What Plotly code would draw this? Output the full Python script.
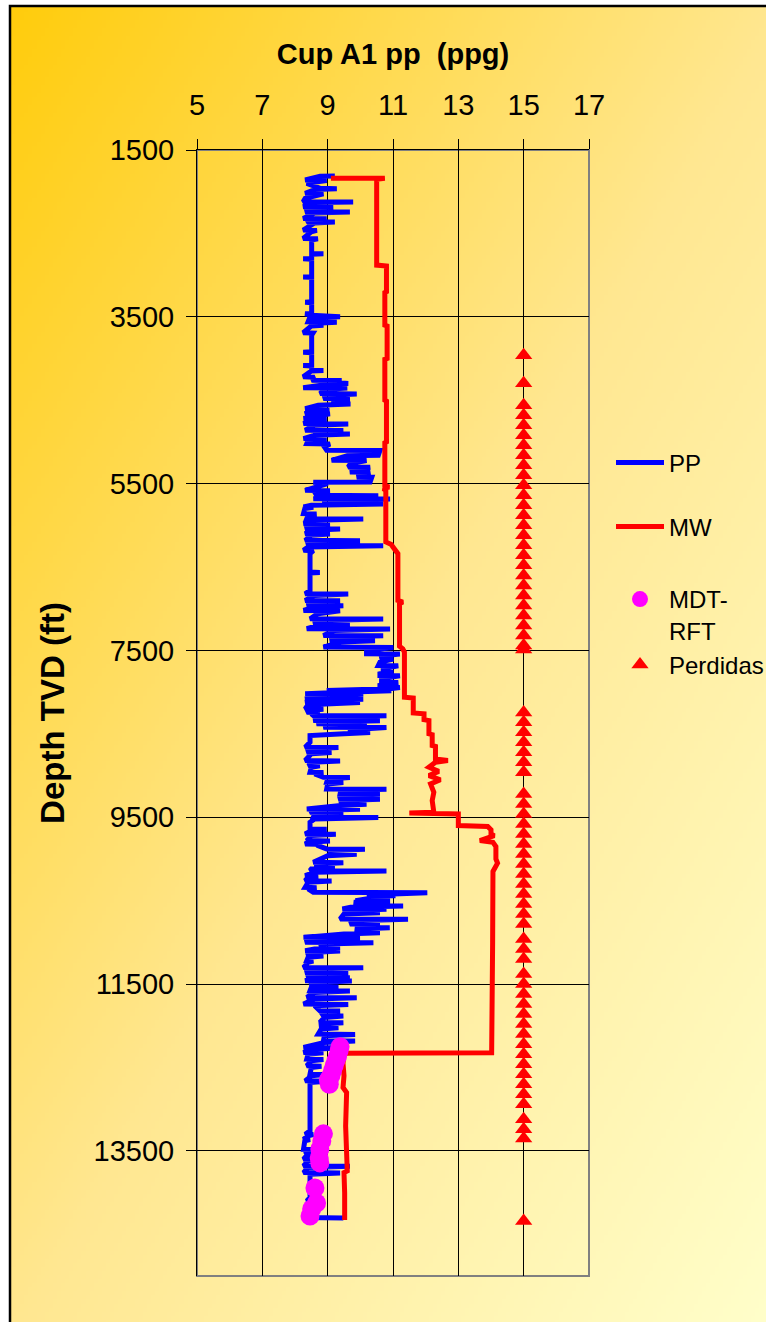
import zlib, struct, base64
import plotly.graph_objects as go

# ---------------- data ----------------
pp_depth = [1812,1816,1860,1866,1900,1960,1964,1975,2020,2024,2080,2120,2124,2130,2180,2184,2200,2240,2244,2255,
 2320,2324,2335,2360,2364,2375,2460,2464,2480,2560,2564,2580,2740,2744,2750,2800,2804,2810,3020,3024,3030,3320,3324,3330,
 3460,3464,3480,3500,3510,3560,3565,3580,3600,3610,3690,3695,3720,3920,3924,3930,4080,4084,4090,4140,4144,4150,4220,4224,
 4260,4264,4275,4300,4310,4350,4354,4370,4420,4424,4440,4480,4484,4500,4540,4544,4560,4600,4604,4640,4660,4664,4700,4720,
 4724,4740,4780,4784,4800,4860,4864,4880,4900,4904,4920,4960,4964,4980,5020,5024,5060,5100,5104,5160,5165,5220,5224,5260,
 5300,5304,5360,5364,5420,5424,5480,5484,5500,5580,5584,5600,5640,5644,5660,5680,5684,5700,5740,5744,5760,5780,5784,5800,
 5860,5864,5880,5920,5924,5940,5980,5984,6000,6040,6044,6060,6100,6104,6120,6180,6184,6200,6240,6244,6260,6300,6304,6340,
 6560,6564,6570,6780,6820,6824,6840,6900,6904,6920,6960,6964,6980,7020,7024,7060,7120,7124,7140,7180,7184,7200,7240,7244,
 7260,7320,7324,7340,7380,7384,7400,7460,7464,7500,7540,7544,7560,7600,7604,7640,7680,7684,7720,7740,7744,7780,7800,7804,
 7840,7880,7884,7920,7940,7944,7960,7980,7984,8000,8020,8024,8050,8080,8084,8100,8120,8124,8150,8200,8204,8220,8240,8244,
 8260,8280,8284,8300,8340,8344,8360,8380,8384,8400,8420,8424,8450,8480,8484,8500,8520,8600,8660,8664,8680,8720,8724,8740,
 8820,8824,8840,8880,8884,8900,8960,8964,8980,9020,9024,9040,9080,9084,9100,9160,9164,9180,9220,9224,9240,9280,9284,9300,
 9340,9344,9360,9400,9404,9420,9440,9444,9460,9500,9504,9520,9560,9640,9644,9660,9700,9704,9720,9780,9784,9800,9820,9824,
 9840,9880,9884,9900,9940,9944,9960,10040,10044,10060,10100,10104,10120,10140,10144,10160,10200,10204,10220,10260,10264,
 10280,10340,10344,10360,10400,10404,10420,10440,10444,10460,10500,10504,10520,10560,10564,10580,10600,10604,10620,10640,
 10644,10660,10720,10724,10740,10780,10784,10800,10820,10824,10840,10880,10884,10900,10940,10944,10960,11000,11004,11020,
 11060,11064,11080,11100,11104,11120,11160,11164,11180,11220,11224,11240,11300,11304,11320,11360,11364,11380,11420,11424,
 11440,11460,11464,11480,11520,11524,11540,11580,11584,11600,11660,11664,11680,11740,11744,11760,11820,11824,11840,11880,
 11884,11900,11960,11964,11980,12020,12024,12040,12100,12104,12120,12180,12184,12200,12260,12264,12280,12320,12324,12340,
 12400,12404,12420,12480,12484,12500,12580,12584,12600,12660,12664,12680,13260,13300,13304,13320,13360,13364,13380,13480,
 13484,13500,13540,13544,13560,13600,13604,13620,13680,13684,13700,13760,13764,13780,14060,14100,14104,14120,14200,14204,
 14220,14300,14304]
pp_value = [9.22,8.77,8.31,8.97,8.36,8.77,9.28,8.6,8.31,8.87,8.31,8.25,9.78,8.6,8.25,9.17,8.5,8.31,9.68,8.6,
 8.25,8.97,8.4,8.36,9.22,8.6,8.25,8.67,8.5,8.25,8.7,8.51,8.51,8.87,8.51,8.51,8.25,8.51,8.51,8.25,8.51,8.51,8.31,8.51,
 8.51,8.31,8.5,9.38,8.45,8.4,9.28,8.5,8.87,8.5,8.25,8.55,8.51,8.51,8.25,8.51,8.51,8.25,8.51,8.51,8.87,8.5,8.25,8.6,
 8.51,9.43,8.8,9.63,8.97,8.25,9.6,8.9,8.77,9.89,9.0,8.87,9.68,9.2,9.17,9.7,8.71,8.31,9.05,8.4,8.31,9.07,8.4,8.26,
 8.97,8.5,8.26,9.63,8.6,8.31,9.48,8.7,8.56,9.68,8.6,8.26,8.97,8.4,8.36,9.07,8.9,8.97,10.6,10.55,9.6,9.12,10.19,9.7,
 9.63,10.3,9.68,10.3,9.89,10.35,10.3,8.56,9.0,8.31,9.07,8.6,8.66,10.55,9.2,8.56,10.91,9.0,8.87,10.7,8.5,8.26,8.56,8.3,
 8.26,8.66,8.4,8.36,10.09,8.6,8.26,9.07,8.5,8.31,9.38,8.5,8.31,9.07,8.5,8.31,9.99,8.5,8.36,10.7,8.4,8.26,8.56,8.46,
 8.46,8.76,8.46,8.46,8.31,9.63,8.6,8.31,9.38,8.6,8.36,9.48,8.6,8.26,9.38,8.7,8.46,10.7,8.8,8.56,9.68,8.7,8.36,10.91,
 9.2,8.87,10.7,9.3,9.07,10.45,9.4,8.87,11.01,10.19,10.19,11.21,10.8,10.6,11.01,10.6,10.55,11.16,10.7,10.7,11.01,10.6,10.6,11.21,
 10.65,10.65,11.16,10.6,10.6,11.21,10.9,8.97,10.95,9.5,8.31,10.09,8.6,8.31,10.09,8.5,8.31,9.99,8.4,8.31,8.87,8.4,8.36,8.76,
 8.5,8.56,10.8,8.9,8.56,10.6,8.8,8.66,10.2,9.0,8.87,10.8,9.7,9.68,10.3,9.5,8.46,8.46,8.31,9.33,8.5,8.36,9.12,8.5,
 8.31,9.38,8.5,8.41,8.76,8.5,8.46,8.87,8.6,8.87,9.68,9.0,8.97,9.48,9.0,8.97,10.8,9.4,9.38,10.6,9.5,9.33,10.6,9.5,
 9.38,10.19,9.4,8.36,9.99,8.5,8.46,9.48,8.6,8.56,10.55,8.6,8.46,8.46,8.97,8.5,8.31,9.25,8.5,8.36,9.07,8.4,8.31,8.66,
 8.7,8.97,10.14,9.1,9.07,9.89,9.0,8.56,9.48,8.6,8.97,9.22,8.5,8.46,10.8,8.6,8.31,8.71,8.4,8.31,9.12,
 8.4,8.31,8.66,8.4,8.56,12.05,11.0,11.0,10.2,10.5,9.85,10.91,9.8,10.2,11.31,9.7,9.45,10.8,9.6,9.68,
 10.6,9.5,9.38,11.46,9.8,9.68,10.6,10.0,9.99,10.9,9.9,9.89,10.6,9.5,8.26,9.99,8.5,8.31,10.4,8.9,
 8.76,9.38,8.6,8.31,9.38,8.5,8.36,8.87,8.4,8.36,8.56,8.4,8.26,10.09,8.5,8.31,9.63,8.5,8.36,9.68,
 8.5,8.31,9.74,8.6,8.46,9.33,8.5,8.46,9.68,8.6,8.36,9.89,8.6,8.26,9.63,8.6,8.76,9.38,8.8,8.87,
 9.48,8.9,8.76,9.48,8.8,8.81,9.33,8.8,8.71,9.84,8.9,8.87,9.84,8.9,8.26,9.63,8.5,8.26,8.87,8.4,
 8.36,8.87,8.5,8.36,8.81,8.5,8.46,8.92,8.5,8.31,8.97,8.46,8.46,8.31,8.56,8.4,8.26,8.46,8.3,8.26,
 8.87,8.4,8.31,8.66,8.35,8.26,8.87,8.4,8.26,9.68,8.4,8.26,9.38,8.46,8.46,8.36,8.76,8.4,8.36,8.66,
 8.4,8.36,9.48]

mw_depth = [1840,1840,1850,2880,2890,3200,3210,3600,3610,4000,4010,4500,4510,5000,5010,5520,5540,5560,5580,6200,
 6230,6260,6330,6340,6900,6920,6940,7450,7480,7520,8060,8070,8250,8260,8330,8340,8500,8510,8640,8650,
 8800,8820,8840,8900,8950,9000,9050,9100,9200,9300,9440,9450,9460,9600,9610,9650,9700,9720,9780,9800,
 9850,10000,10050,10150,11000,12324,12330,12450,12600,12740,12800,13200,13740,13760,14000,14330]
mw_value = [9.1,10.75,10.5,10.5,10.8,10.8,10.75,10.75,10.82,10.82,10.75,10.75,10.8,10.8,10.75,10.75,10.88,10.7,10.78,10.78,
 10.95,11.0,11.1,11.15,11.15,11.3,11.2,11.2,11.3,11.35,11.35,11.62,11.62,11.95,11.95,12.1,12.1,12.2,12.2,12.3,
 12.3,12.68,12.3,12.1,12.4,12.1,12.45,12.15,12.25,12.2,12.25,11.5,13.0,13.0,13.9,14.0,14.0,14.1,13.66,14.06,
 14.15,14.15,14.2,14.06,14.05,14.02,9.5,9.47,9.5,9.47,9.58,9.55,9.6,9.5,9.52,9.52]

mdt_depth = [12250,12300,12370,12420,12480,12540,12600,12650,12700,13296,13380,13476,13584,13644,13944,14124,14196,14280]
mdt_value = [9.38,9.35,9.3,9.25,9.2,9.15,9.1,9.02,9.05,8.87,8.82,8.76,8.74,8.76,8.61,8.66,8.51,8.46]

perd_depth = [3960,4296,4560,4680,4800,4920,5040,5160,5280,5400,5520,5640,5760,5880,6000,6120,6240,6360,6480,6600,
 6720,6840,6960,7080,7200,7320,7440,7490,
 8244,8360,8480,8600,8720,8840,8960,9220,9340,9460,9580,9700,9820,9940,10060,10180,10300,10420,10540,10660,10780,
 10960,11080,11200,11380,11500,11620,11740,11860,11980,12100,12220,12340,12460,12580,12700,12820,12940,
 13120,13240,13350,14340]
perd_value = [15.0] * len(perd_depth)

x_ticks = [5, 7, 9, 11, 13, 15, 17]
y_ticks = [1500, 3500, 5500, 7500, 9500, 11500, 13500]

# ---------------- layout geometry ----------------
W, H = 766, 1322
L, R, T, B = 197, 589, 150, 1276
PW, PH = R - L, B - T

def px(x):
    return (x - L) / PW

def py(y):
    return (B - y) / PH

# diagonal gradient background as an inline png
def make_png(w, h):
    stops = [(0.0, (255, 204, 12)), (0.5, (255, 231, 145)), (1.0, (255, 255, 204))]
    def col(t):
        for k in range(len(stops) - 1):
            t0, c0 = stops[k]
            t1, c1 = stops[k + 1]
            if t <= t1:
                f = (t - t0) / (t1 - t0)
                return bytes(int(round(c0[i] + (c1[i] - c0[i]) * f)) for i in range(3))
        return bytes(stops[-1][1])
    raw = bytearray()
    for j in range(h):
        raw.append(0)
        for i in range(w):
            raw += col((i / (w - 1) + j / (h - 1)) / 2)
    def chunk(tag, data):
        c = struct.pack('>I', len(data)) + tag + data
        return c + struct.pack('>I', zlib.crc32(tag + data) & 0xffffffff)
    png = (b'\x89PNG\r\n\x1a\n' + chunk(b'IHDR', struct.pack('>IIBBBBB', w, h, 8, 2, 0, 0, 0))
           + chunk(b'IDAT', zlib.compress(bytes(raw), 9)) + chunk(b'IEND', b''))
    return 'data:image/png;base64,' + base64.b64encode(png).decode()

FONT = "Liberation Sans, Arial, sans-serif"

fig = go.Figure()
fig.add_trace(go.Scatter(x=pp_value, y=pp_depth, mode='lines', name='PP',
                         line=dict(color='#0000FF', width=5), legend='legend'))
fig.add_trace(go.Scatter(x=mw_value, y=mw_depth, mode='lines', name='MW',
                         line=dict(color='#FF0000', width=5), legend='legend2'))
fig.add_trace(go.Scatter(x=mdt_value, y=mdt_depth, mode='markers', name='MDT-<br>RFT',
                         marker=dict(color='#FF00FF', size=19, symbol='circle'), legend='legend3'))
fig.add_trace(go.Scatter(x=perd_value, y=perd_depth, mode='markers', name='Perdidas',
                         marker=dict(color='#FF0000', size=15, symbol='triangle-up'), legend='legend4'))

leg_common = dict(bgcolor='rgba(0,0,0,0)', font=dict(family=FONT, size=24, color='black'),
                  xanchor='left', x=px(611), itemwidth=48)
fig.update_layout(
    width=W, height=H,
    margin=dict(l=L, r=W - R, t=T, b=H - B, autoexpand=False),
    paper_bgcolor='white', plot_bgcolor='rgba(0,0,0,0)',
    font=dict(family=FONT, color='black'),
    showlegend=True,
    legend=dict(**leg_common, y=py(463), yanchor='middle'),
    legend2=dict(**leg_common, y=py(527), yanchor='middle'),
    legend3=dict(**leg_common, y=py(577), yanchor='top', valign='top'),
    legend4=dict(**leg_common, y=py(665), yanchor='middle'),
    xaxis=dict(side='top', range=[5, 17], tickvals=x_ticks, ticktext=[str(v) for v in x_ticks],
               showgrid=True, gridcolor='black', gridwidth=1, zeroline=False, automargin=False,
               showline=True, linecolor='black', linewidth=1,
               ticks='outside', ticklen=10, tickcolor='black',
               tickfont=dict(family=FONT, size=29), ticklabelstandoff=12,
               title=dict(text='<b>Cup A1 pp \u00a0(ppg)</b>', font=dict(family=FONT, size=29), standoff=16)),
    yaxis=dict(range=[15000, 1500], tickvals=y_ticks, ticktext=[str(v) for v in y_ticks],
               showgrid=True, gridcolor='black', gridwidth=1, zeroline=False, automargin=False,
               showline=True, linecolor='black', linewidth=1,
               ticks='outside', ticklen=10, tickcolor='black',
               tickfont=dict(family=FONT, size=29), ticklabelstandoff=6,
               title=dict(text='<b>Depth TVD (ft)</b>', font=dict(family=FONT, size=33), standoff=18)),
    images=[dict(source=make_png(190, 330), xref='paper', yref='paper',
                 x=px(10), y=py(6), sizex=(W + 20 - 10) / PW, sizey=(H + 20 - 6) / PH,
                 xanchor='left', yanchor='top', sizing='stretch', layer='below')],
    shapes=[
        dict(type='rect', xref='paper', yref='paper', x0=0, x1=1, y0=0, y1=1,
             line=dict(color='#808080', width=2), layer='below'),
        dict(type='rect', xref='paper', yref='paper', x0=px(10), x1=px(W + 30), y0=py(H + 30), y1=py(6),
             line=dict(color='black', width=2.5), layer='above'),
    ],
)

fig.write_html("out.html", config={'displayModeBar': False},
               post_script="document.body.style.margin='0';document.body.style.overflow='hidden';")
